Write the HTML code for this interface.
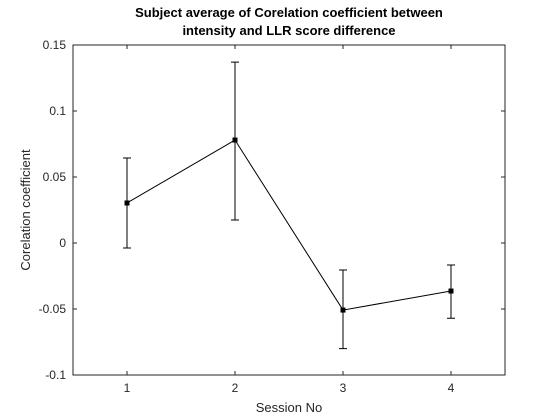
<!DOCTYPE html>
<html><head><meta charset="utf-8"><style>
body{margin:0;background:#fff;}
svg{display:block;font-family:"Liberation Sans",Arial,sans-serif;}
</style></head><body>
<svg id="chart" width="560" height="420" viewBox="0 0 560 420" xmlns="http://www.w3.org/2000/svg">
<rect width="560" height="420" fill="#fff"/>
<text x="289" y="17" text-anchor="middle" font-size="13" font-weight="bold" fill="#000">Subject average of Corelation coefficient between</text>
<text x="289" y="35" text-anchor="middle" font-size="13" font-weight="bold" fill="#000">intensity and LLR score difference</text>
<text x="289" y="412" text-anchor="middle" font-size="13" fill="#262626">Session No</text>
<text transform="translate(30,210) rotate(-90)" text-anchor="middle" font-size="13" fill="#262626">Corelation coefficient</text>
<g id="plot"></g>
</svg>
<script>
const sessions = [1, 2, 3, 4];
const means = [0.0303, 0.078, -0.0508, -0.0364];
const upper = [0.0644, 0.137, -0.0205, -0.0167];
const lower = [-0.0038, 0.0174, -0.080, -0.057];
const yTicks = [-0.1, -0.05, 0, 0.05, 0.1, 0.15];
const yTickLabels = ["-0.1", "-0.05", "0", "0.05", "0.1", "0.15"];
const xTicks = [1, 2, 3, 4];
const xTickLabels = ["1", "2", "3", "4"];

const L=73,R=505,T=45,B=375;
const xMin=0.5,xMax=4.5,yMin=-0.1,yMax=0.15;
const sx=v=>L+(v-xMin)/(xMax-xMin)*(R-L);
const sy=v=>B-(v-yMin)/(yMax-yMin)*(B-T);
const NS="http://www.w3.org/2000/svg";
const g=document.getElementById('plot');
function mk(tag,attrs){const e=document.createElementNS(NS,tag);for(const k in attrs)e.setAttribute(k,attrs[k]);g.appendChild(e);return e;}

const box=mk('rect',{x:L,y:T,width:R-L,height:B-T,fill:'none',stroke:'#262626','stroke-width':1});



yTicks.forEach((t,i)=>{
  const y=sy(t);
  const a=mk('line',{x1:L,x2:L+4,y1:y,y2:y,stroke:'#262626'});
  
  
  const b=mk('line',{x1:R,x2:R-4,y1:y,y2:y,stroke:'#262626'});
  
  
  const tx=mk('text',{x:L-7,y:y+4,'text-anchor':'end','font-size':12,fill:'#262626'});
  tx.textContent=yTickLabels[i];
  
  
});
xTicks.forEach((t,i)=>{
  const x=sx(t);
  const a=mk('line',{x1:x,x2:x,y1:B,y2:B-4,stroke:'#262626'});
  
  
  const b=mk('line',{x1:x,x2:x,y1:T,y2:T+4,stroke:'#262626'});
  
  
  const tx=mk('text',{x:x,y:B+17,'text-anchor':'middle','font-size':12,fill:'#262626'});
  tx.textContent=xTickLabels[i];
  
  
});

const pts=sessions.map((s,i)=>sx(s)+','+sy(means[i])).join(' ');
const line=mk('polyline',{points:pts,fill:'none',stroke:'#000','stroke-width':1});



sessions.forEach((s,i)=>{
  const x=sx(s);
  const eb=mk('path',{d:`M${x},${sy(upper[i])}V${sy(lower[i])}M${x-4},${sy(upper[i])}H${x+4}M${x-4},${sy(lower[i])}H${x+4}`,stroke:'#000',fill:'none','stroke-width':1});
  
  
  const m=mk('rect',{x:x-2.5,y:sy(means[i])-2.5,width:5,height:5,fill:'#000'});
  
  
});
</script>
</body></html>
